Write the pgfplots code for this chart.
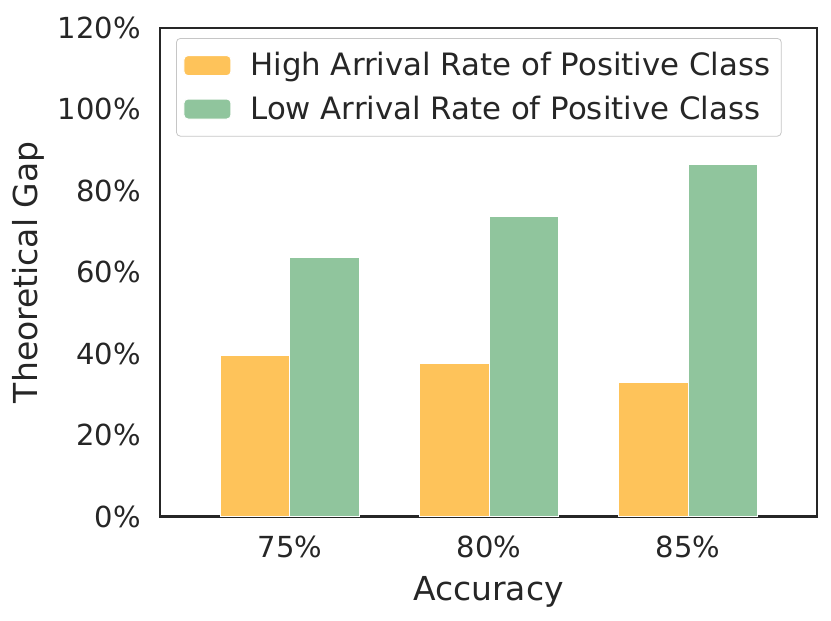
\documentclass[border=0pt]{standalone}
\usepackage{fontspec}
\setmainfont{DejaVu Sans}
\usepackage{pgfplots}
\pgfplotsset{compat=1.18}
\definecolor{barorange}{HTML}{FEC35A}
\definecolor{bargreen}{HTML}{90C59D}
\definecolor{ink}{HTML}{262626}
\begin{document}
\begin{tikzpicture}
\begin{axis}[
    scale only axis,
    width=328.5pt, height=244.25pt,
    ybar=0pt, bar width=0.347,
    xmin=-0.653, xmax=2.648,
    ymin=0, ymax=120,
    xtick={0,1,2}, xticklabels={75\%,80\%,85\%},
    ytick={0,20,...,120},
    yticklabel={\pgfmathprintnumber{\tick}\%},
    /pgf/number format/assume math mode=true,
    major tick length=0pt,
    xticklabel shift=9.5pt, yticklabel shift=9.5pt,
    tick label style={font=\fontsize{14.5}{17}\selectfont, text=ink, inner sep=0pt},
    axis line style={ink, line width=1.2pt},
    xlabel={Accuracy}, ylabel={Theoretical Gap},
    label style={font=\fontsize{16.5}{19}\selectfont, text=ink},
    xlabel style={at={(axis description cs:0.5,0)}, anchor=center, yshift=-37.5pt},
    ylabel style={at={(axis description cs:0,0.5)}, anchor=center, yshift=66pt},
    legend style={at={(0.0244,0.9795)}, anchor=north west, draw=gray!45, rounded corners=2pt,
        font=\fontsize{15.4}{21}\selectfont, text=ink, inner xsep=3.5pt, inner ysep=5pt,
        row sep=4.5pt},
    legend cell align=left,
    legend image code/.code={\fill[#1] (0pt,-5pt) rectangle (23.5pt,5pt); \path (31pt,0pt);},
    every axis plot/.append style={draw=white, line width=0.5pt},
]
\addplot[fill=barorange] coordinates {(0,39.5) (1,37.5) (2,33.0)};
\addplot[fill=bargreen] coordinates {(0,63.5) (1,73.8) (2,86.4)};
\legend{High Arrival Rate of Positive Class, Low Arrival Rate of Positive Class}
\end{axis}
\path ([shift={(-80pt,-52.25pt)}]current axis.south west) rectangle ([shift={(7pt,14pt)}]current axis.north east);
\end{tikzpicture}
\end{document}
